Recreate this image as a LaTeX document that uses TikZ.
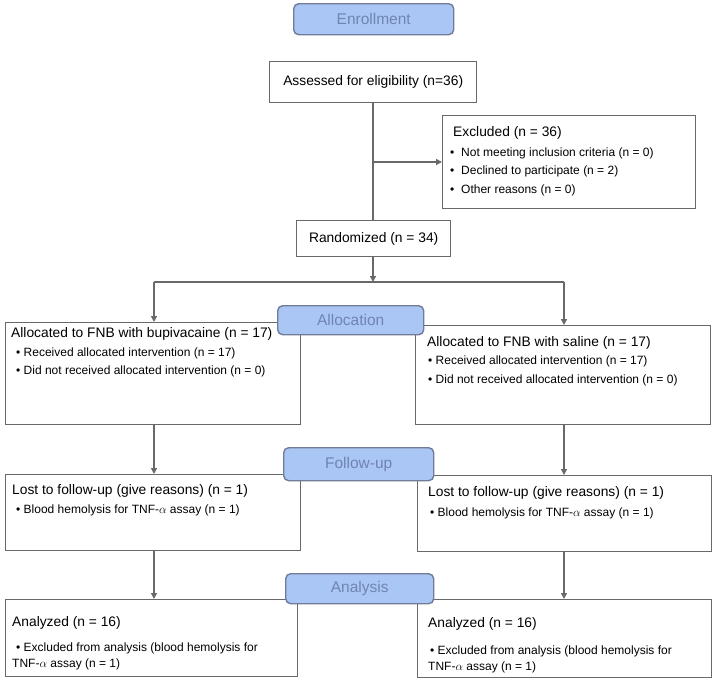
\documentclass[tikz,border=0pt]{standalone}
\usepackage{fontspec}
\setmainfont{Liberation Sans}
\usetikzlibrary{arrows.meta}
\definecolor{linegray}{RGB}{105,105,105}
\definecolor{labfill}{RGB}{170,198,245}
\definecolor{labdraw}{RGB}{112,124,152}
\definecolor{labtext}{RGB}{112,132,178}
\newcommand{\tsz}{\fontsize{13.8}{16}\selectfont}
\newcommand{\ssz}{\fontsize{12}{14}\selectfont}
\begin{document}
\begin{tikzpicture}[x=1pt,y=-1pt,
  box/.style={draw=linegray, line width=1.4pt, fill=white, inner sep=0pt, anchor=north west},
  lab/.style={draw=labdraw, line width=1.4pt, fill=labfill, rounded corners=5pt, inner sep=0pt,
              anchor=north west, text=labtext, font=\fontsize{15.5}{18}\selectfont},
  ttl/.style={anchor=west, inner sep=0pt, font=\tsz},
  sub/.style={anchor=west, inner sep=0pt, font=\ssz},
  conn/.style={draw=linegray, line width=1.4pt},
  arr/.style={conn, -{Triangle[length=6pt,width=6pt]}}]
\useasboundingbox (0,0) rectangle (714,678);
% Enrollment
\node[lab, minimum width=160pt, minimum height=31pt] (enr) at (293,3) {Enrollment};
\node[box, minimum width=207pt, minimum height=41pt] (assess) at (269,61) {};
\node[inner sep=0pt, font=\tsz] (assesst) at (assess.center) {Assessed for eligibility (n=36)};
\node[box, minimum width=253pt, minimum height=93pt] (excl) at (442,115) {};
\node[ttl] (ex0) at (453,133) {Excluded (n = 36)};
\node[sub] (ex1) at (450,153) {\makebox[11pt][l]{•}Not meeting inclusion criteria (n = 0)};
\node[sub] (ex2) at (450,171) {\makebox[11pt][l]{•}Declined to participate (n = 2)};
\node[sub] (ex3) at (450,190) {\makebox[11pt][l]{•}Other reasons (n = 0)};
\node[box, minimum width=154pt, minimum height=36pt] (rand) at (296,220) {};
\node[inner sep=0pt, font=\tsz] (randt) at (rand.center) {Randomized (n = 34)};
\coordinate (j1) at (373,162);
\coordinate (split) at (373,282);
\coordinate (hl) at (154,282);
\coordinate (hr) at (564,282);
\draw[conn] (assess.south -| j1) -- (rand.north -| j1);
\draw[arr] (j1) -- (excl.west |- j1);
\draw[arr] (rand.south -| split) -- (split);
\draw[conn] (hl) -- (hr);
% Allocation
\node[box, minimum width=295pt, minimum height=102pt] (alL) at (5,322) {};
\node[box, minimum width=295pt, minimum height=99pt] (alR) at (415,325) {};
\draw[arr] (hl) -- (alL.north -| hl);
\draw[arr] (hr) -- (alR.north -| hr);
\node[lab, minimum width=146pt, minimum height=29pt] (alloc) at (277,305) {Allocation};
\node[ttl] (alL0) at (11,334) {Allocated to FNB with bupivacaine (n = 17)};
\node[sub] (alL1) at (16,353) {• Received allocated intervention (n = 17)};
\node[sub] (alL2) at (16,371) {• Did not received allocated intervention (n = 0)};
\node[ttl] (alR0) at (427,343) {Allocated to FNB with saline (n = 17)};
\node[sub] (alR1) at (428,361) {• Received allocated intervention (n = 17)};
\node[sub] (alR2) at (428,380) {• Did not received allocated intervention (n = 0)};
% Follow-up
\node[box, minimum width=295pt, minimum height=76pt] (fuL) at (5,474) {};
\node[box, minimum width=294pt, minimum height=76pt] (fuR) at (417,475) {};
\draw[arr] (alL.south -| hl) -- (fuL.north -| hl);
\draw[arr] (alR.south -| hr) -- (fuR.north -| hr);
\node[lab, minimum width=150pt, minimum height=33pt] (follow) at (283,447) {Follow-up};
\node[ttl] (fuL0) at (12,491) {Lost to follow-up (give reasons) (n = 1)};
\node[sub] (fuL1) at (16,510) {• Blood hemolysis for TNF-$\alpha$ assay (n = 1)};
\node[ttl] (fuR0) at (428,493) {Lost to follow-up (give reasons) (n = 1)};
\node[sub] (fuR1) at (430,513) {• Blood hemolysis for TNF-$\alpha$ assay (n = 1)};
% Analysis
\node[box, minimum width=292pt, minimum height=77pt] (anL) at (5,599) {};
\node[box, minimum width=294pt, minimum height=78pt] (anR) at (417,599) {};
\draw[arr] (fuL.south -| hl) -- (anL.north -| hl);
\draw[arr] (fuR.south -| hr) -- (anR.north -| hr);
\node[lab, minimum width=148pt, minimum height=30pt] (analysis) at (285,573) {Analysis};
\node[ttl] (anL0) at (12,623) {Analyzed (n = 16)};
\node[sub] (anL1) at (16,648) {• Excluded from analysis (blood hemolysis for};
\node[sub] (anL2) at (12,664) {TNF-$\alpha$ assay (n = 1)};
\node[ttl] (anR0) at (428,624) {Analyzed (n = 16)};
\node[sub] (anR1) at (430,651) {• Excluded from analysis (blood hemolysis for};
\node[sub] (anR2) at (428,667) {TNF-$\alpha$ assay (n = 1)};
\end{tikzpicture}
\end{document}
